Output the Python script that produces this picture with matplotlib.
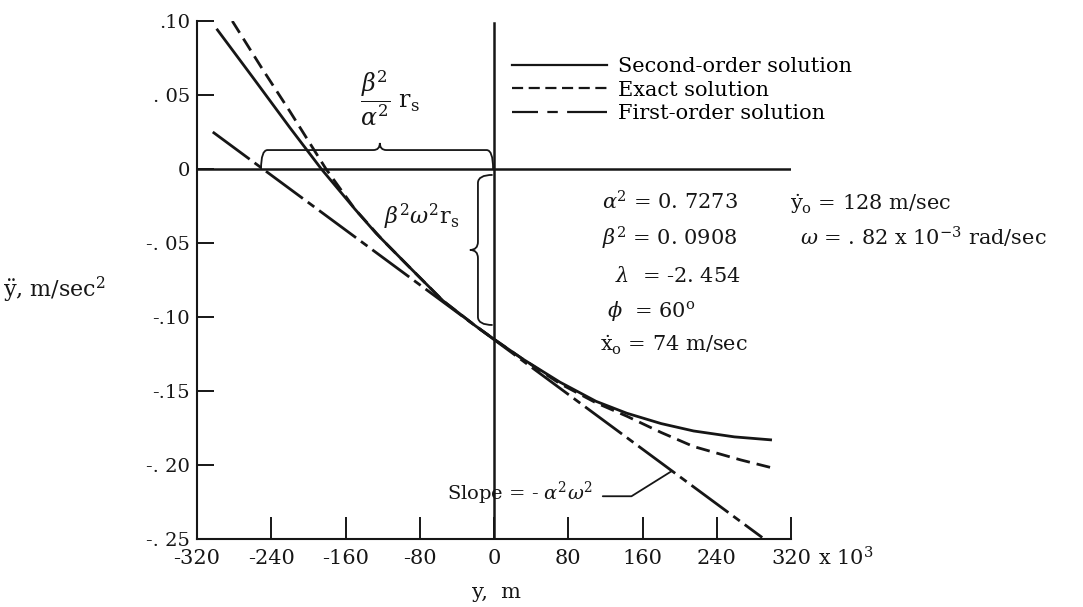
import numpy as np
import matplotlib
matplotlib.use("Agg")
import matplotlib.pyplot as plt
from matplotlib.path import Path
from matplotlib.patches import PathPatch
from matplotlib.lines import Line2D

plt.rcParams["font.family"] = "DejaVu Serif"
plt.rcParams["mathtext.fontset"] = "dejavuserif"

# values (y in 10^3 m, acceleration in m/sec^2)
second_x = [-298, -260, -220, -186, -150, -127, -90, -55, -20, 0, 30, 71, 110, 143, 180, 215, 259, 298]
second_y = [0.094, 0.062, 0.028, 0.000, -0.027, -0.0435, -0.067, -0.089, -0.106, -0.115, -0.128,
            -0.144, -0.157, -0.165, -0.172, -0.177, -0.181, -0.183]

exact_x = [-282, -250, -220, -181, -150, -120, -90, -55, -20, 0, 30, 71, 110, 143, 180, 215, 266, 302]
exact_y = [0.100, 0.068, 0.039, 0.000, -0.027, -0.048, -0.067, -0.089, -0.106, -0.115, -0.128,
           -0.145, -0.158, -0.167, -0.178, -0.1875, -0.1966, -0.2023]

first_x = [-303, 289]
first_y = [0.025, -0.249]

x_ticks = [-320, -240, -160, -80, 0, 80, 160, 240, 320]
x_ticklabels = ["-320", "-240", "-160", "-80", "0", "80", "160", "240", "320"]
y_ticks = [0.10, 0.05, 0, -0.05, -0.10, -0.15, -0.20, -0.25]
y_ticklabels = [".10", ". 05", "0", "-. 05", "-.10", "-.15", "-. 20", "-. 25"]

labels = ["Second-order solution", "Exact solution", "First-order solution"]

ink = "#161616"
W, H = 1083, 607

fig = plt.figure(figsize=(W / 100, H / 100), dpi=100)
ax = fig.add_axes([197 / W, 1 - 539 / H, (791 - 197) / W, (539 - 21) / H])

ax.plot(second_x, second_y, color=ink, lw=2.0)
ax.plot(exact_x, exact_y, color=ink, lw=2.0, dashes=(5, 2.5))
ax.plot(first_x, first_y, color=ink, lw=2.0, dashes=(16.5, 2.2, 2.9, 2.2))

ax.axhline(0, color=ink, lw=1.8)
ax.axvline(0, ymax=0.996, color=ink, lw=1.8)

ax.set_xlim(-320, 320)
ax.set_ylim(-0.25, 0.10)
ax.set_xticks(x_ticks)
ax.set_xticklabels(x_ticklabels)
ax.set_yticks(y_ticks)
ax.set_yticklabels(y_ticklabels)
ax.tick_params(axis="x", direction="in", length=16, width=1.4, labelsize=15, pad=7, colors=ink)
ax.tick_params(axis="y", direction="in", length=12, width=1.4, labelsize=14, pad=5, colors=ink)
for side in ["top", "right"]:
    ax.spines[side].set_visible(False)
for side in ["left", "bottom"]:
    ax.spines[side].set_linewidth(1.5)
    ax.spines[side].set_color(ink)

# legend
h1 = Line2D([], [], color=ink, lw=1.6)
h2 = Line2D([], [], color=ink, lw=1.6, dashes=(5, 2.5))
h3 = Line2D([], [], color=ink, lw=1.6, dashes=(11.7, 4.2, 4.7, 4.2, 19.4, 3))
ax.legend([h1, h2, h3], labels, loc="upper left", bbox_to_anchor=(512 / W, 1 - 57 / H),
          bbox_transform=fig.transFigure, frameon=False, fontsize=15, handlelength=4.57,
          handletextpad=0.53, labelspacing=0.22, borderpad=0, borderaxespad=0)

# braces
def brace_path(pts):
    codes = [Path.MOVETO, Path.CURVE3, Path.CURVE3, Path.LINETO, Path.CURVE3, Path.CURVE3,
             Path.CURVE3, Path.CURVE3, Path.LINETO, Path.CURVE3, Path.CURVE3]
    return PathPatch(Path(pts, codes), fill=False, lw=1.3, edgecolor=ink)

x0, x1, xm, rx = -251, -1, -123, 7
yb, ym, yt = 0.0, 0.0128, 0.0176
ax.add_patch(brace_path([(x0, yb), (x0, ym), (x0 + rx, ym), (xm - rx, ym), (xm, ym), (xm, yt),
                         (xm, ym), (xm + rx, ym), (x1 - rx, ym), (x1, ym), (x1, yb)]))

y0, y1, yc, ry = -0.004, -0.1054, -0.0547, 0.0055
xb, xv, xt = -1.5, -17.3, -26
ax.add_patch(brace_path([(xb, y0), (xv, y0), (xv, y0 - ry), (xv, yc + ry), (xv, yc), (xt, yc),
                         (xv, yc), (xv, yc - ry), (xv, y1 + ry), (xv, y1), (xb, y1)]))

ax.text(-112, 0.048, r"$\dfrac{\beta^2}{\alpha^2}\ \mathrm{r_s}$", fontsize=17, ha="center", va="center", color=ink)
ax.text(-78, -0.0324, r"$\beta^2\omega^2\mathrm{r_s}$", fontsize=16, ha="center", va="center", color=ink)

# parameters
ax.text(116.4, -0.0277, r"$\alpha^2$ = 0. 7273", fontsize=15, va="baseline", color=ink)
ax.text(116.4, -0.0514, r"$\beta^2$ = 0. 0908", fontsize=15, va="baseline", color=ink)
ax.text(130, -0.0764, r"$\lambda$  = -2. 454", fontsize=15, va="baseline", color=ink)
ax.text(121.8, -0.1000, r"$\phi$  = 60$^\mathrm{o}$", fontsize=15, va="baseline", color=ink)
ax.text(114, -0.1236, r"$\dot{\mathrm{x}}_\mathrm{o}$ = 74 m/sec", fontsize=15, va="baseline", color=ink)
ax.text(319, -0.0277, r"$\dot{\mathrm{y}}_\mathrm{o}$ = 128 m/sec", fontsize=15, va="baseline",
        color=ink, clip_on=False)
ax.text(330, -0.0514, r"$\omega$ = . 82 x 10$^{-3}$ rad/sec", fontsize=15, va="baseline",
        color=ink, clip_on=False)

ax.annotate(r"Slope = - $\alpha^2\omega^2$", xy=(191.8, -0.204), xytext=(-50.6, -0.2236),
            fontsize=14, ha="left", va="baseline", color=ink,
            arrowprops=dict(arrowstyle="-", color=ink, lw=1.3, shrinkA=5, shrinkB=0,
                            relpos=(1, 0.4), connectionstyle="angle,angleA=0,angleB=32,rad=0"))

fig.text(818 / W, 1 - 566 / H, r"x 10$^3$", fontsize=15, va="baseline", color=ink)
fig.text(497 / W, 1 - 593 / H, "y,  m", fontsize=15, ha="center", va="center", color=ink)
fig.text(3 / W, 1 - 290 / H, r"$\ddot{\mathrm{y}}$, m/sec$^2$", fontsize=16, ha="left", va="center", color=ink)

fig.savefig("out.png", dpi=100)
